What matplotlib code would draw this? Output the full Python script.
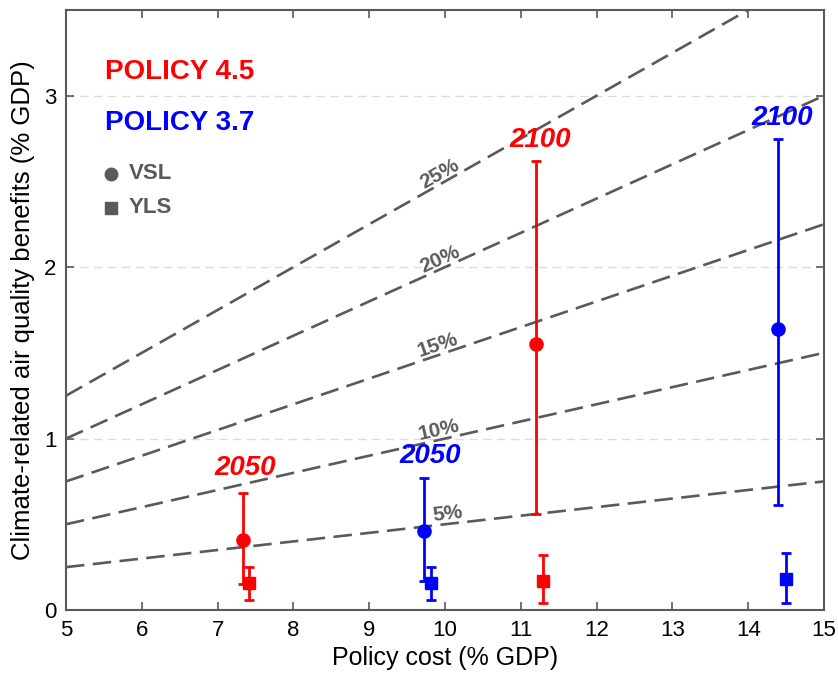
import numpy as np
import matplotlib
matplotlib.use("Agg")
import matplotlib.pyplot as plt

plt.rcParams['font.family'] = ['Liberation Sans', 'DejaVu Sans']

# iso-ratio lines (benefit / cost)
ratios = [0.05, 0.10, 0.15, 0.20, 0.25]
ratio_labels = ['5%', '10%', '15%', '20%', '25%']
label_x = [10.03, 9.92, 9.9, 9.93, 9.93]

# VSL estimates: x, central, low, high
vsl_x = [7.33, 9.72, 11.2, 14.39]
vsl_y = [0.41, 0.46, 1.55, 1.64]
vsl_lo = [0.15, 0.17, 0.56, 0.61]
vsl_hi = [0.68, 0.77, 2.62, 2.75]

# YLS estimates
yls_x = [7.42, 9.82, 11.29, 14.5]
yls_y = [0.16, 0.16, 0.17, 0.18]
yls_lo = [0.06, 0.06, 0.04, 0.04]
yls_hi = [0.25, 0.25, 0.32, 0.33]

colors = ['#ff0000', '#0000ff', '#ff0000', '#0000ff']
years = ['2050', '2050', '2100', '2100']
year_xy = [(7.36, 0.83), (9.8, 0.9), (11.25, 2.74), (14.45, 2.87)]

grey = '#5a5a5a'

fig = plt.figure(figsize=(8.38, 6.83), dpi=100)
ax = fig.add_axes([0.0788, 0.1069, 0.9045, 0.8785])

for yv in [1, 2, 3]:
    ax.axhline(yv, color='#dcdcdc', lw=1.0, ls=(0, (6, 4)), zorder=0)

ax.set_xlim(5, 15)
ax.set_ylim(0, 3.5)

xx = np.array([5, 15])
for r, lab, lx in zip(ratios, ratio_labels, label_x):
    ax.plot(xx, r * xx, color=grey, lw=1.9, ls=(0, (7, 3.2)), zorder=1)
    # angle of the line in screen space
    a = ax.transData.transform((5, 5 * r))
    b = ax.transData.transform((15, 15 * r))
    ang = np.degrees(np.arctan2(b[1] - a[1], b[0] - a[0]))
    ax.text(lx, r * lx + 0.06, lab, color=grey, fontsize=15, fontweight='bold',
            ha='center', va='center', rotation=ang, rotation_mode='anchor',
            zorder=2)

for i in range(4):
    c = colors[i]
    ax.errorbar(vsl_x[i], vsl_y[i],
                yerr=[[vsl_y[i] - vsl_lo[i]], [vsl_hi[i] - vsl_y[i]]],
                fmt='o', color=c, ms=9.5, lw=2, capsize=3.5, capthick=2, zorder=3)
    ax.errorbar(yls_x[i], yls_y[i],
                yerr=[[yls_y[i] - yls_lo[i]], [yls_hi[i] - yls_y[i]]],
                fmt='s', color=c, ms=8, lw=2, capsize=3.5, capthick=2, zorder=3)
    ax.text(year_xy[i][0], year_xy[i][1], years[i], color=c, fontsize=20,
            fontweight='bold', fontstyle='italic', ha='center', va='center')

# legend-like annotations
ax.text(0.051, 0.897, 'POLICY 4.5', transform=ax.transAxes, color='#ff0000',
        fontsize=20, fontweight='bold', va='center')
ax.text(0.051, 0.812, 'POLICY 3.7', transform=ax.transAxes, color='#0000ff',
        fontsize=20, fontweight='bold', va='center')
ax.plot([0.059], [0.727], 'o', color=grey, ms=9, transform=ax.transAxes)
ax.text(0.083, 0.727, 'VSL', transform=ax.transAxes, color=grey,
        fontsize=16, fontweight='bold', va='center')
ax.plot([0.059], [0.67], 's', color=grey, ms=8, transform=ax.transAxes)
ax.text(0.083, 0.67, 'YLS', transform=ax.transAxes, color=grey,
        fontsize=16, fontweight='bold', va='center')

ax.set_xticks(range(5, 16))
ax.set_yticks([0, 1, 2, 3])
ax.tick_params(direction='in', length=6, width=1.2, color=grey, labelsize=16,
               top=True, right=True, pad=7)
for s in ax.spines.values():
    s.set_color(grey)
    s.set_linewidth(1.5)

ax.set_xlabel('Policy cost (% GDP)', fontsize=18, labelpad=4)
ax.set_ylabel('Climate-related air quality benefits (% GDP)', fontsize=18.5,
              labelpad=6)

fig.savefig('out.png', dpi=100)
